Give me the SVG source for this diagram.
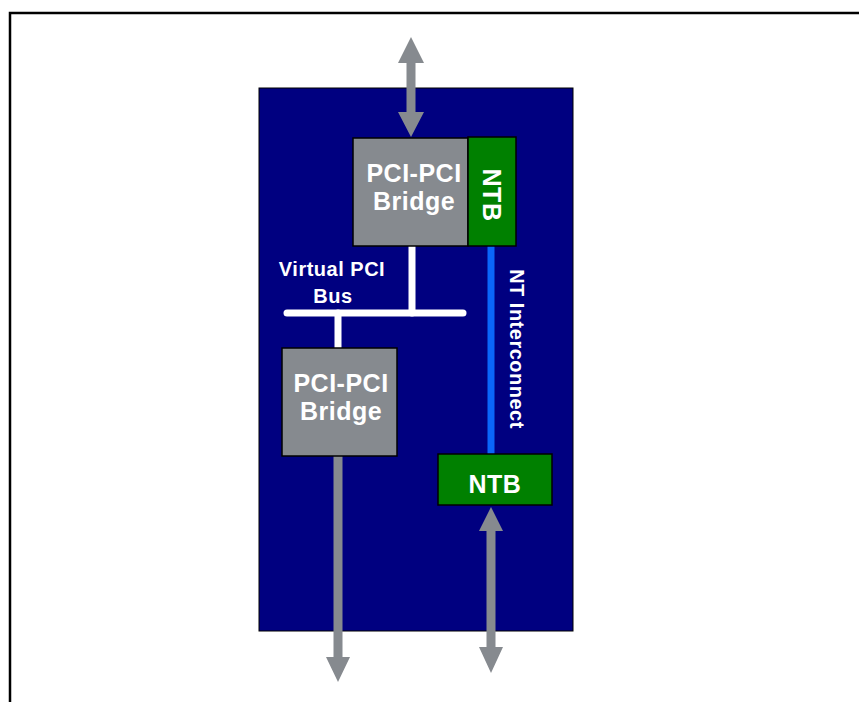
<svg xmlns="http://www.w3.org/2000/svg" width="859" height="702" viewBox="0 0 859 702">
  <style>
    .lbl { font-family: "Liberation Sans", Arial, sans-serif; font-weight: bold; fill: #ffffff; text-anchor: middle; }
    .big { font-size: 25px; letter-spacing: 0.5px; }
    .small { font-size: 20px; letter-spacing: 0.5px; }
    .bridge { fill: #868a8f; stroke: #000000; stroke-width: 1.5; }
    .ntb { fill: #008000; stroke: #000000; stroke-width: 1.5; }
    .arrow { fill: #868a8f; }
    .bus { stroke: #ffffff; stroke-width: 7; stroke-linecap: round; fill: none; }
  </style>

  <!-- page frame -->
  <path d="M10,702 V13 H859" fill="none" stroke="#000000" stroke-width="2.5"/>

  <!-- chip body -->
  <rect id="chip" x="259" y="88" width="314" height="543" fill="#000080" stroke="#000000" stroke-width="1"/>

  <g id="connectors">
    <!-- virtual PCI bus -->
    <path class="bus" d="M412,246 V313"/>
    <path class="bus" d="M287,313 H463"/>
    <path class="bus" d="M338,313 V348"/>
    <!-- non-transparent interconnect -->
    <rect x="487.5" y="246" width="7" height="208" fill="#0a66fa"/>
    <!-- upstream link (double-headed) -->
    <polygon class="arrow" points="411,37 424,63 415.5,63 415.5,112 424,112 411,137 398,112 406.5,112 406.5,63 398,63"/>
    <!-- downstream link from lower bridge -->
    <polygon class="arrow" points="333.5,456 342.5,456 342.5,657 350,657 338,682 326,657 333.5,657"/>
    <!-- link from lower NTB (double-headed) -->
    <polygon class="arrow" points="491,507 503,531 495.5,531 495.5,647 503,647 491,673 479,647 486.5,647 486.5,531 479,531"/>
  </g>

  <g id="label-virtual-bus">
    <text class="lbl small" x="332" y="276">Virtual PCI</text>
    <text class="lbl small" x="333" y="303">Bus</text>
  </g>

  <g id="label-nt-interconnect">
    <text class="lbl" style="font-size:20px;letter-spacing:0.5px" transform="translate(510,349) rotate(90)">NT Interconnect</text>
  </g>

  <g id="bridge-upper">
    <rect class="bridge" x="353" y="138" width="115" height="108"/>
    <text class="lbl big" x="414" y="182">PCI-PCI</text>
    <text class="lbl big" x="414" y="210">Bridge</text>
  </g>

  <g id="ntb-upper">
    <rect class="ntb" x="468" y="137" width="48" height="109"/>
    <text class="lbl big" transform="translate(483,195) rotate(90)">NTB</text>
  </g>

  <g id="bridge-lower">
    <rect class="bridge" x="282" y="348" width="115" height="108"/>
    <text class="lbl big" x="341" y="392">PCI-PCI</text>
    <text class="lbl big" x="341" y="420">Bridge</text>
  </g>

  <g id="ntb-lower">
    <rect class="ntb" x="438" y="454" width="114" height="51"/>
    <text class="lbl big" x="495" y="493">NTB</text>
  </g>
</svg>
